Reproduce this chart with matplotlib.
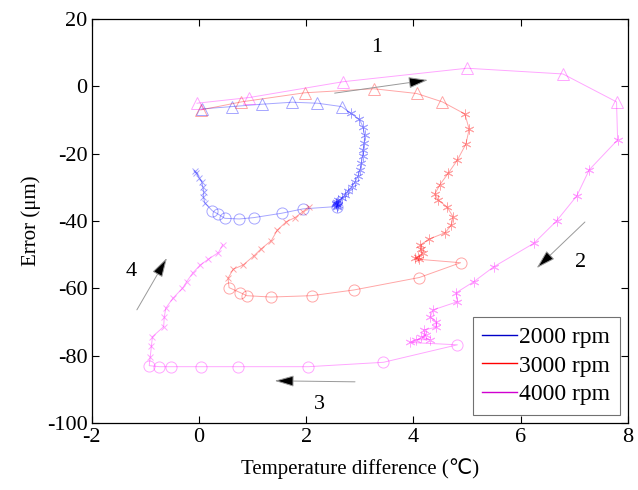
import numpy as np
import matplotlib
matplotlib.use("Agg")
import matplotlib.pyplot as plt
from matplotlib.lines import Line2D

plt.rcParams['font.family'] = ['Liberation Serif', 'DejaVu Sans']
plt.rcParams['axes.unicode_minus'] = False

# 2000 rpm
b_tri_x = [0.05, 0.61, 1.17, 1.74, 2.21, 2.66]
b_tri_y = [-6.7, -6.0, -5.3, -4.7, -5.0, -6.0]
b_star_x = [2.83, 2.99, 3.06, 3.09, 3.08, 3.06, 3.05, 3.03, 3.00, 2.97, 2.91, 2.85,
            2.78, 2.72, 2.66, 2.60, 2.57, 2.56, 2.58, 2.55, 2.60, 2.57]
b_star_y = [-8.0, -9.8, -12.0, -14.5, -16.9, -18.9, -20.6, -22.9, -24.9, -26.6, -28.4, -29.8,
            -31.1, -32.3, -33.3, -33.8, -34.4, -35.0, -35.5, -34.8, -35.3, -35.7]
b_circ_x = [2.57, 1.94, 1.54, 1.02, 0.75, 0.48, 0.36, 0.25]
b_circ_y = [-35.7, -36.4, -37.7, -39.0, -39.4, -39.2, -38.0, -37.0]
b_cross_x = [0.11, 0.08, 0.09, 0.07, 0.05, 0.00, -0.05, -0.08]
b_cross_y = [-34.7, -32.8, -31.3, -29.8, -28.3, -27.1, -25.8, -25.1]

# 3000 rpm
r_tri_x = [0.03, 0.79, 1.97, 3.26, 4.06, 4.54]
r_tri_y = [-7.0, -4.6, -1.9, -0.7, -2.1, -4.6]
r_star_x = [4.96, 5.04, 4.98, 4.82, 4.65, 4.49, 4.40, 4.46, 4.62, 4.74, 4.71, 4.59,
            4.29, 4.13, 4.15, 4.17, 4.09, 4.03, 4.11]
r_star_y = [-8.2, -12.7, -17.1, -21.9, -25.8, -29.3, -32.0, -33.8, -35.7, -38.7, -41.2, -43.5,
            -45.4, -47.1, -48.4, -49.6, -50.6, -51.1, -51.4]
r_circ_x = [4.88, 4.11, 2.89, 2.10, 1.34, 0.89, 0.77, 0.56]
r_circ_y = [-52.4, -56.8, -60.5, -62.2, -62.6, -62.2, -61.3, -59.8]
r_cross_x = [0.54, 0.64, 0.82, 1.02, 1.15, 1.35, 1.46, 1.63, 1.79, 1.94, 2.05]
r_cross_y = [-57.0, -54.3, -53.1, -50.4, -48.4, -45.8, -42.7, -40.2, -39.0, -37.2, -35.7]

# 4000 rpm
m_tri_x = [-0.04, 0.94, 2.69, 5.00, 6.79, 7.79]
m_tri_y = [-5.0, -3.3, 1.4, 5.4, 3.7, -4.6]
m_star_x = [7.81, 7.28, 7.05, 6.67, 6.25, 5.50, 5.13, 4.80, 4.82, 4.37, 4.31, 4.43,
            4.42, 4.19, 4.23, 4.15, 4.31, 4.05, 3.93]
m_star_y = [-15.9, -24.8, -32.5, -40.0, -46.6, -53.6, -58.0, -61.3, -64.0, -66.4, -68.6, -69.9,
            -71.6, -72.4, -73.9, -74.4, -75.3, -75.3, -76.1]
m_circ_x = [4.82, 3.44, 2.04, 0.73, 0.03, -0.53, -0.74, -0.93]
m_circ_y = [-76.8, -82.0, -83.3, -83.3, -83.3, -83.3, -83.3, -83.0]
m_cross_x = [-0.91, -0.89, -0.87, -0.66, -0.65, -0.62, -0.49, -0.31, -0.23, -0.12, 0.02,
             0.17, 0.36, 0.44]
m_cross_y = [-80.3, -77.3, -74.4, -71.4, -68.6, -65.9, -63.0, -60.0, -58.0, -55.5, -53.1,
             -51.4, -49.4, -47.1]

speeds = ['2000 rpm', '3000 rpm', '4000 rpm']
colors = ['#0000ff', '#ff0000', '#ff00ff']
legend_colors = ['#0000c8', '#ff0000', '#d000d0']

fig = plt.figure(figsize=(6.38, 4.9), dpi=100)
ax = fig.add_axes([0.144, 0.137, 0.840, 0.824])

series = [
    (b_tri_x, b_tri_y, b_star_x, b_star_y, b_circ_x, b_circ_y, b_cross_x, b_cross_y),
    (r_tri_x, r_tri_y, r_star_x, r_star_y, r_circ_x, r_circ_y, r_cross_x, r_cross_y),
    (m_tri_x, m_tri_y, m_star_x, m_star_y, m_circ_x, m_circ_y, m_cross_x, m_cross_y),
]

for (tx, ty, sx, sy, cx, cy, xx, xy), c in zip(series, colors):
    # whole loop as one thin line
    allx = tx + sx + cx + xx
    ally = ty + sy + cy + xy
    ax.plot(allx, ally, color=c, lw=0.7, alpha=0.35)
    ax.plot(tx, ty, ls='none', marker='^', ms=8, mfc='none', mec=c, mew=0.7, alpha=0.35)
    ax.plot(sx, sy, ls='none', marker=(6, 2, 0), ms=7, mec=c, mew=0.7, alpha=0.35)
    ax.plot(cx, cy, ls='none', marker='o', ms=8, mfc='none', mec=c, mew=0.7, alpha=0.35)
    ax.plot(xx, xy, ls='none', marker='x', ms=4.5, mec=c, mew=0.7, alpha=0.35)

# direction arrows
arrows = [((2.53, -2.0), (4.27, 1.9), '1', (3.32, 11.7)),
          ((7.20, -40.3), (6.30, -54.0), '2', (7.12, -52.4)),
          ((2.91, -87.8), (1.41, -87.5), '3', (2.25, -94.6)),
          ((-1.16, -66.4), (-0.60, -51.0), '4', (-1.27, -55.1))]
for tail, head, lab, pos in arrows:
    ax.annotate('', xy=head, xytext=tail,
                arrowprops=dict(arrowstyle='-|>,head_length=1.2,head_width=0.35',
                                fc='k', ec='0.6', lw=0.7, shrinkA=0, shrinkB=0))
    ax.text(pos[0], pos[1], lab, fontsize=16, ha='center', va='center')

ax.set_xlim(-2, 8)
ax.set_ylim(-100, 20)
ax.set_xticks(np.arange(-2, 9, 2))
ax.set_yticks(np.arange(-100, 21, 20))
ax.tick_params(direction='in', top=True, right=True, labelsize=16, length=5, width=0.8)
ax.tick_params(axis='x', pad=4)
ax.tick_params(axis='y', pad=3)
for s in ax.spines.values():
    s.set_linewidth(0.9)

ax.set_xlabel('Temperature difference (℃)', fontsize=15, labelpad=8)
ax.set_ylabel('Error (μm)', fontsize=15, labelpad=4)

handles = [Line2D([], [], color=c, lw=1) for c in legend_colors]
leg = ax.legend(handles, speeds, loc='lower right', fontsize=17, frameon=True,
                fancybox=False, edgecolor='0.3', handlelength=1.45, handletextpad=0.1,
                labelspacing=0.3, borderaxespad=0.35, borderpad=0.4)
leg.get_frame().set_linewidth(0.8)

fig.savefig('out.png', dpi=100)
